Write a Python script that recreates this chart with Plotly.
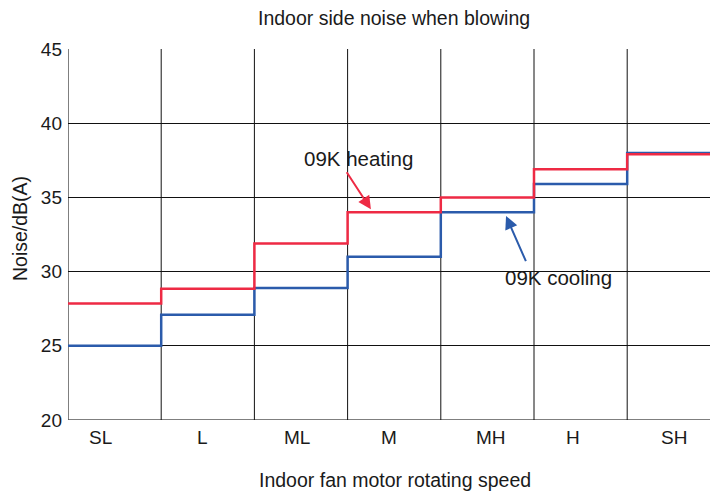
import plotly.graph_objects as go

categories = ["SL", "L", "ML", "M", "MH", "H", "SH"]
heating = [27.85, 28.85, 31.9, 34.0, 35.0, 36.9, 37.9]
cooling = [25.0, 27.1, 28.9, 31.0, 34.0, 35.9, 38.0]
y_ticks = [20, 25, 30, 35, 40, 45]

RED = "#ee2a44"
BLUE = "#2b5bab"
# pixel nudges of the category labels as placed in the original drawing
label_nudge = [-14, -5, -4, -5, 4, -8, 0]

n = len(categories)
edges = list(range(n + 1))
centers = [i + 0.5 for i in range(n)]

fig = go.Figure()
fig.add_trace(go.Scatter(x=edges, y=cooling + [cooling[-1]], mode="lines",
                         line=dict(color=BLUE, width=2.5, shape="hv"), showlegend=False))
fig.add_trace(go.Scatter(x=edges, y=heating + [heating[-1]], mode="lines",
                         line=dict(color=RED, width=2.5, shape="hv"), showlegend=False))

font = "Liberation Sans, Arial, sans-serif"
OFF = 8  # page body margin
W, H = 718 - OFF, 495 - OFF
L, T = 68 - OFF, 49 - OFF
B = H - (420 - OFF)
pw, ph = W - L, H - T - B


def px(xw):
    return (xw - OFF - L) / pw


def py(yw):
    return (H - B - (yw - OFF)) / ph


fig.update_layout(
    width=W, height=H,
    margin=dict(l=L, r=0, t=T, b=B, autoexpand=False),
    paper_bgcolor="white", plot_bgcolor="white",
    font=dict(family=font, color="#1a1a1a"),
    xaxis=dict(range=[0, pw / 93.2], tickmode="array", tickvals=centers,
               ticktext=[""] * n,
               showgrid=False, zeroline=False, showline=False, ticks="",
               automargin=False),
    yaxis=dict(range=[20, 45], tickmode="array", tickvals=y_ticks,
               showgrid=True, gridcolor="#111111", gridwidth=1, zeroline=False,
               showline=False, ticks="", tickfont=dict(size=19), ticklabelstandoff=5,
               automargin=False),
)

# category labels below the axis
for c, cat, dx in zip(centers, categories, label_nudge):
    fig.add_annotation(x=c, y=py(437), xref="x", yref="paper", text=cat, showarrow=False,
                       xshift=dx, font=dict(size=19), xanchor="center", yanchor="middle")

# title and axis titles as paper annotations
fig.add_annotation(xref="paper", yref="paper", x=px(394), y=py(18),
                   text="Indoor side noise when blowing", showarrow=False,
                   font=dict(size=19.5), xanchor="center", yanchor="middle")
fig.add_annotation(xref="paper", yref="paper", x=px(395), y=py(480),
                   text="Indoor fan motor rotating speed", showarrow=False,
                   font=dict(size=19.5), xanchor="center", yanchor="middle")
fig.add_annotation(xref="paper", yref="paper", x=px(20), y=py(228),
                   text="Noise/dB(A)", showarrow=False, textangle=-90,
                   font=dict(size=19.5), xanchor="center", yanchor="middle")

# vertical cell borders
for e in edges[1:-1]:
    fig.add_shape(type="line", xref="x", yref="y", x0=e, x1=e, y0=20, y1=45,
                  line=dict(color="#111111", width=1), layer="below")
# axis lines
fig.add_shape(type="line", xref="x", yref="y", x0=0, x1=0, y0=20, y1=45,
              line=dict(color="#555555", width=1.5), layer="below")
fig.add_shape(type="line", xref="paper", yref="y", x0=0, x1=1, y0=20, y1=20,
              line=dict(color="#555555", width=1.5), layer="below")

fig.add_annotation(x=3.25, y=34.2, ax=2.98, ay=36.8, xref="x", yref="y", axref="x", ayref="y",
                   showarrow=True, arrowhead=2, arrowsize=1.3, arrowwidth=2, arrowcolor=RED, text="")
fig.add_annotation(x=3.12, y=37.65, xref="x", yref="y", text="09K heating", showarrow=False,
                   font=dict(size=20.5))
fig.add_annotation(x=4.70, y=33.75, ax=4.92, ay=30.6, xref="x", yref="y", axref="x", ayref="y",
                   showarrow=True, arrowhead=2, arrowsize=1.3, arrowwidth=2, arrowcolor=BLUE, text="")
fig.add_annotation(x=5.26, y=29.6, xref="x", yref="y", text="09K cooling", showarrow=False,
                   font=dict(size=20.5))

fig.write_html("out.html")
